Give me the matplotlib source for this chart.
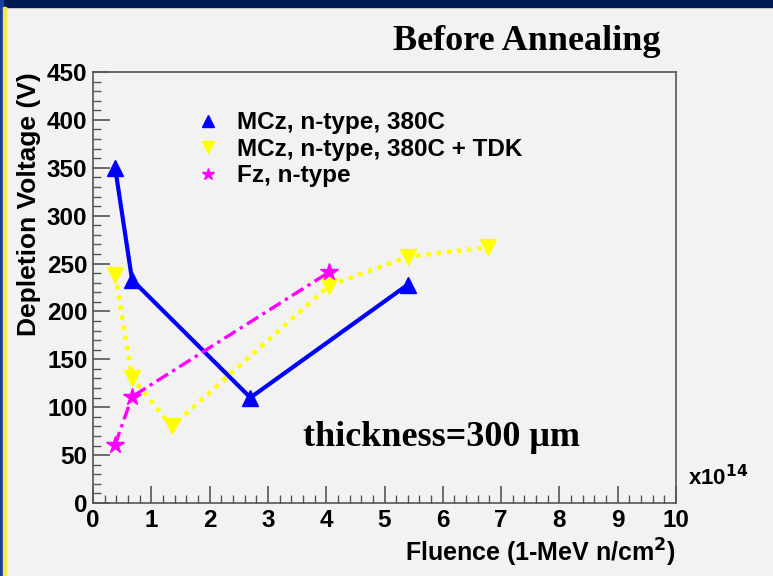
import matplotlib.pyplot as plt
from matplotlib.lines import Line2D
from matplotlib.patches import Rectangle
from matplotlib.ticker import MultipleLocator

# fluence in units of 1e14 n/cm^2, depletion voltage in V
mcz_x = [0.38, 0.67, 2.70, 5.40]
mcz_v = [350, 233, 110, 228]

tdk_x = [0.38, 0.67, 1.35, 4.05, 5.40, 6.77]
tdk_v = [238, 131, 80, 227, 257, 267]

fz_x = [0.38, 0.67, 4.05]
fz_v = [61, 111, 241]

labels = ["MCz, n-type, 380C", "MCz, n-type, 380C + TDK", "Fz, n-type"]

bg = "#f2f2f2"
fig = plt.figure(figsize=(7.73, 5.76), dpi=100, facecolor=bg)

# slide frame: navy bar on top, blue/yellow strip on the left
fig.patches.append(Rectangle((0, 1 - 7 / 576), 1, 7 / 576, transform=fig.transFigure,
                             color="#001a52", zorder=0))
fig.patches.append(Rectangle((0, 0), 3 / 773, 1, transform=fig.transFigure,
                             color="#1a3c9c", zorder=0))
fig.patches.append(Rectangle((3 / 773, 0), 2.5 / 773, 1 - 7 / 576, transform=fig.transFigure,
                             color="#f5e84a", zorder=0))

ax = fig.add_axes([93 / 773, 73 / 576, 583 / 773, 431 / 576], facecolor=bg)

ax.plot(mcz_x, mcz_v, color="#0000ff", lw=3, ls="-", marker="^", ms=12)
ax.plot(tdk_x, tdk_v, color="#ffff00", lw=3.2, ls=(0, (1, 1.3)), marker="v", ms=12)
ax.plot(fz_x, fz_v, color="#ff00ff", lw=2.4, ls=(0, (4, 1.5, 1, 1.5)), marker="*", ms=13)

ax.set_xlim(0, 10)
ax.set_ylim(0, 450)
ax.xaxis.set_major_locator(MultipleLocator(1))
ax.xaxis.set_minor_locator(MultipleLocator(0.2))
ax.yaxis.set_major_locator(MultipleLocator(50))
ax.yaxis.set_minor_locator(MultipleLocator(10))

ax.tick_params(which="both", direction="in", color="#555555", top=False, right=False)
ax.tick_params(which="major", length=12, width=1.2, pad=4)
ax.tick_params(which="minor", length=6, width=1.0)
for lab in ax.get_xticklabels() + ax.get_yticklabels():
    lab.set_fontproperties("Liberation Sans")
    lab.set_fontweight("bold")
    lab.set_fontsize(17.5)
for s in ax.spines.values():
    s.set_color("#555555")
    s.set_linewidth(1.2)

ax.set_xlabel("Fluence (1-MeV n/cm$^\\mathbf{2}$)", loc="right", labelpad=4,
              family="Liberation Sans", weight="bold", size=18)
ax.set_ylabel("Depletion Voltage (V)", loc="top", labelpad=4,
              family="Liberation Sans", weight="bold", size=19)

ax.text(1.02, 0.03, "x10$^\\mathbf{14}$", transform=ax.transAxes,
        family="Liberation Sans", weight="bold", size=16, va="bottom")

handles = [
    Line2D([], [], ls="none", marker="^", color="#0000ff", ms=9),
    Line2D([], [], ls="none", marker="v", color="#ffff00", ms=9),
    Line2D([], [], ls="none", marker="*", color="#ff00ff", ms=9),
]
ax.legend(handles, labels, loc="upper left", bbox_to_anchor=(0.135, 0.96), frameon=False,
          handletextpad=0.6, labelspacing=0.15, handlelength=1.2,
          prop=dict(family="Liberation Sans", weight="bold", size=17.5))

fig.text(527 / 773, 1 - 42 / 576, "Before Annealing", family="Liberation Serif",
         weight="bold", size=26, ha="center", va="center")
fig.text(441 / 773, 1 - 437 / 576, "thickness=300 \u03bcm", family="Liberation Serif",
         weight="bold", size=26, ha="center", va="center")

fig.savefig("out.png", dpi=100, facecolor=bg)
